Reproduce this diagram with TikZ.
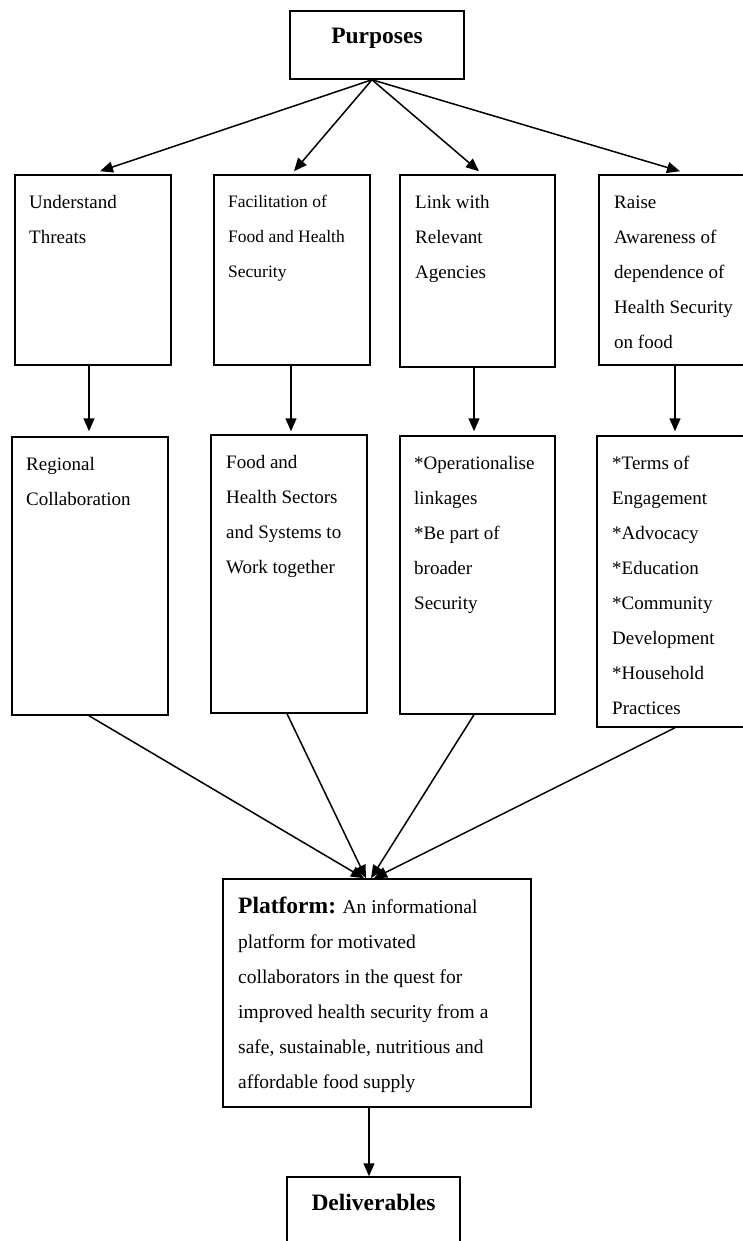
\documentclass[tikz,border=0pt]{standalone}
\usepackage{fontspec}
\setmainfont{Liberation Serif}
\usetikzlibrary{arrows.meta,calc,fit}
\tikzset{
  box/.style={draw, line width=1.5pt, inner sep=0pt, rectangle},
  arr/.style={line width=1.5pt, -{Triangle[length=13pt,width=11pt]}},
  txt/.style={anchor=north west, inner sep=0pt, align=left, font=\fontsize{19}{35}\selectfont},
  txts/.style={anchor=north west, inner sep=0pt, align=left, font=\fontsize{17.5}{35}\selectfont},
  head/.style={anchor=base, inner sep=0pt, font=\fontsize{23.5}{28}\selectfont\bfseries}
}
\newcommand{\fl}{\rule{0pt}{25pt}}
\begin{document}
\begin{tikzpicture}[x=1pt,y=-1pt]
\useasboundingbox (0,0) rectangle (743,1241);
\clip (0,0) rectangle (743,1241);
% boxes
\node[box, fit={(290,11) (464,79)}] (P) {};
\node[box, fit={(15,175) (171,365)}] (A1) {};
\node[box, fit={(214,175) (370,365)}] (A2) {};
\node[box, fit={(400,175) (555,367)}] (A3) {};
\node[box, fit={(599,175) (765,365)}] (A4) {};
\node[box, fit={(12,437) (168,715)}] (B1) {};
\node[box, fit={(211,435) (367,713)}] (B2) {};
\node[box, fit={(400,436) (555,714)}] (B3) {};
\node[box, fit={(597,436) (765,727)}] (B4) {};
\node[box, fit={(223,879) (531,1107)}] (PL) {};
\node[box, fit={(287,1177) (460,1270)}] (D) {};
% texts
\node[head] (tP) at (377,44) {Purposes};
\node[head] (tD) at (373.5,1210) {Deliverables};
\node[txt] (tA1) at (29,183) {\fl Understand\\Threats};
\node[txts] (tA2) at (228,182) {\fl Facilitation of\\Food and Health\\Security};
\node[txt] (tA3) at (415,183) {\fl Link with\\Relevant\\Agencies};
\node[txt] (tA4) at (614,183) {\fl Raise\\Awareness of\\dependence of\\Health Security\\on food};
\node[txt] (tB1) at (26,445) {\fl Regional\\Collaboration};
\node[txt] (tB2) at (226,443) {\fl Food and\\Health Sectors\\and Systems to\\Work together};
\node[txt] (tB3) at (414,444) {\fl *Operationalise\\linkages\\*Be part of\\broader\\Security};
\node[txt] (tB4) at (612,444) {\fl *Terms of\\Engagement\\*Advocacy\\*Education\\*Community\\Development\\*Household\\Practices};
\node[txt, font=\fontsize{19.5}{35}\selectfont] (tPL) at (238,888) {\fl{\fontsize{23.5}{35}\selectfont\bfseries Platform:} An informational\\platform for motivated\\collaborators in the quest for\\improved health security from a\\safe, sustainable, nutritious and\\affordable food supply};
% connectors
\coordinate (o) at ($(P.south)+(-5,0)$);
\draw[arr] (o) -- ($(A1.north)+(7,-3)$);
\draw[arr] (o) -- ($(A2.north)+(2,-3)$);
\draw[arr] (o) -- ($(A3.north)+(1.5,-3)$);
\draw[arr] (o) -- ($(A4.north)+(-2,-3)$);
\draw[arr] ($(A1.south)+(-4,0)$) -- ($(B1.north)+(-1,-5)$);
\draw[arr] ($(A2.south)+(-1,0)$) -- ($(B2.north)+(2,-3)$);
\draw[arr] ($(A3.south)+(-3.5,0)$) -- ($(B3.north)+(-3.5,-4)$);
\draw[arr] ($(A4.south)+(-7,0)$) -- ($(B4.north)+(-6,-4)$);
\draw[arr] ($(B1.south)+(-1,0)$) -- ($(PL.north)+(-13,0)$);
\draw[arr] ($(B2.south)+(-2,0)$) -- ($(PL.north)+(-11,0)$);
\draw[arr] ($(B3.south)+(-3.5,0)$) -- ($(PL.north)+(-6,0)$);
\draw[arr] ($(B4.south)+(-6,0)$) -- ($(PL.north)+(-3,0)$);
\draw[arr] ($(PL.south)+(-8,0)$) -- ($(D.north)+(-4.5,0)$);
\end{tikzpicture}
\end{document}
